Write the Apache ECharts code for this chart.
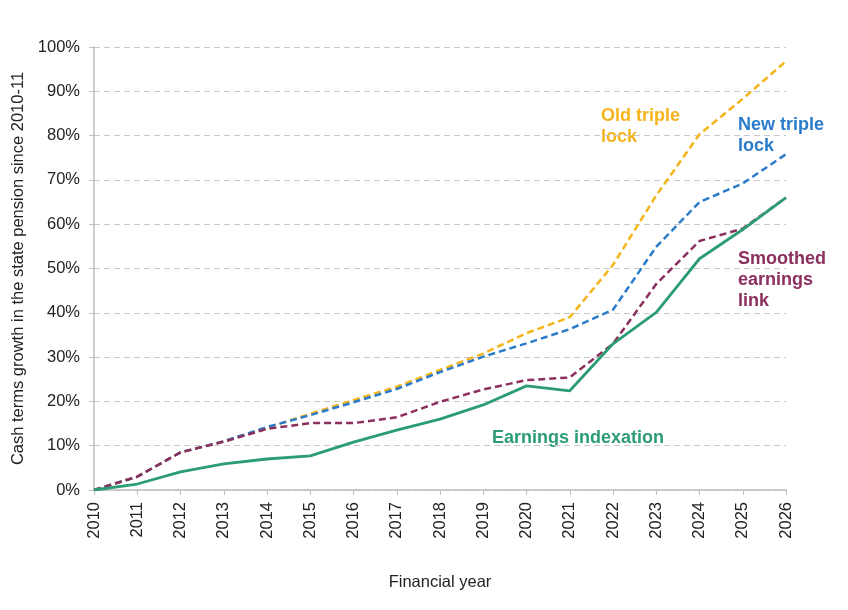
<!DOCTYPE html>
<html>
<head>
<meta charset="utf-8">
<script src="https://cdn.jsdelivr.net/npm/echarts@6/dist/echarts.min.js"></script>
<style>html,body{margin:0;padding:0;background:#fff}#c{width:848px;height:610px}</style>
</head>
<body>
<div id="c"></div>
<script>
var years = ['2010','2011','2012','2013','2014','2015','2016','2017','2018','2019','2020','2021','2022','2023','2024','2025','2026'];
var yTicks = [0,10,20,30,40,50,60,70,80,90,100];
var oldTripleLock = [0,3,8.5,11,14,17.2,20.3,23.3,27.1,30.8,35.4,39,50.8,66.5,80.3,88.3,96.8];
var newTripleLock = [0,3,8.5,11,14.2,16.9,19.8,22.8,26.6,30.1,33.1,36.3,40.7,54.9,65,69.2,75.8];
var smoothedEarnings = [0,3,8.5,10.9,13.8,15.1,15.1,16.4,19.9,22.7,24.8,25.4,33,46.5,56.2,59,66];
var earningsIndexation = [0,1.35,4.1,5.9,7,7.7,10.8,13.5,16,19.2,23.5,22.4,33,40.1,52.2,58.8,66];

var chart = echarts.init(document.getElementById('c'));
var font = 'Liberation Sans, Arial, sans-serif';
function dashed(name, data, color) {
  return {name: name, type: 'line', data: data, symbol: 'none', animation: false,
    lineStyle: {color: color, width: 2.5, type: [7, 4]}};
}
chart.setOption({
  animation: false,
  grid: {left: 94, right: 62, top: 47, bottom: 120},
  xAxis: {
    type: 'category', data: years, boundaryGap: false,
    name: 'Financial year', nameLocation: 'middle', nameGap: 84,
    nameTextStyle: {fontFamily: font, fontSize: 16.5, color: '#222'},
    axisLine: {lineStyle: {color: '#BFBFBF', width: 1.5}},
    axisTick: {show: true, length: 5, lineStyle: {color: '#BFBFBF'}},
    axisLabel: {rotate: 90, fontFamily: font, fontSize: 16.5, color: '#222', margin: 12},
    splitLine: {show: false}
  },
  yAxis: {
    type: 'value', min: 0, max: 100, interval: 10,
    name: 'Cash terms growth in the state pension since 2010-11',
    nameLocation: 'middle', nameGap: 64, nameRotate: 90,
    nameTextStyle: {fontFamily: font, fontSize: 16.5, color: '#222'},
    axisLine: {show: true, lineStyle: {color: '#BFBFBF', width: 1.5}},
    axisTick: {show: true, length: 5, lineStyle: {color: '#BFBFBF'}},
    axisLabel: {fontFamily: font, fontSize: 16.5, color: '#222', margin: 14,
      formatter: function (v) { return yTicks.indexOf(v) >= 0 ? v + '%' : ''; }},
    splitLine: {show: true, lineStyle: {color: '#C8C8C8', type: [6, 4], width: 1}}
  },
  series: [
    dashed('Old triple lock', oldTripleLock, '#F4B41A'),
    dashed('New triple lock', newTripleLock, '#2B7BCB'),
    dashed('Smoothed earnings link', smoothedEarnings, '#8B2F5E'),
    {name: 'Earnings indexation', type: 'line', data: earningsIndexation, symbol: 'none',
      lineStyle: {color: '#2C9C73', width: 2.8}}
  ],
  graphic: [
    {type: 'text', left: 601, top: 106, style: {text: 'Old triple\nlock', fill: '#F4B41A', font: 'bold 18px ' + font, lineHeight: 21}},
    {type: 'text', left: 738, top: 115, style: {text: 'New triple\nlock', fill: '#2B7BCB', font: 'bold 18px ' + font, lineHeight: 21}},
    {type: 'text', left: 738, top: 249, style: {text: 'Smoothed\nearnings\nlink', fill: '#8B2F5E', font: 'bold 18px ' + font, lineHeight: 21}},
    {type: 'text', left: 492, top: 428, style: {text: 'Earnings indexation', fill: '#2C9C73', font: 'bold 18px ' + font, lineHeight: 21}}
  ]
});
</script>
</body>
</html>
